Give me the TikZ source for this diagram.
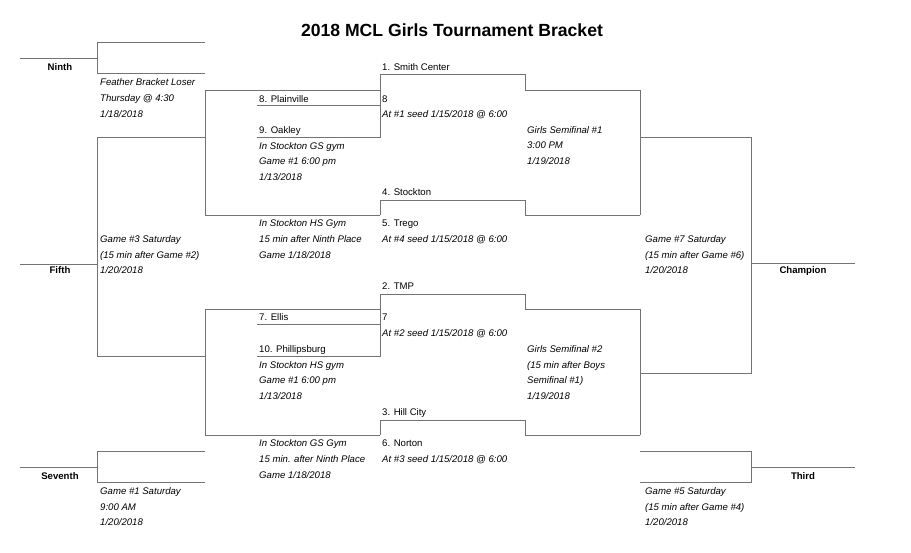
\documentclass[tikz,border=0pt]{standalone}
\usepackage{fontspec}
\setmainfont{Liberation Sans}
\begin{document}
\begin{tikzpicture}[x=1pt,y=-1pt,
  ln/.style={draw=black!55,line width=0.9pt},
  lb/.style={anchor=west,inner sep=0pt,yshift=-1.3pt,text height=7pt,text depth=2pt,font=\fontsize{9.6}{10}\selectfont},
  it/.style={lb,font=\fontsize{9.6}{10}\selectfont\itshape},
  pl/.style={anchor=center,inner sep=0pt,yshift=-1.3pt,text height=7pt,text depth=2pt,font=\fontsize{9.6}{10}\selectfont\bfseries}]
\useasboundingbox[fill=white] (0,0) rectangle (911,552);
\node[font=\fontsize{17.6}{19}\selectfont\bfseries] (title) at (452,30) {2018 MCL Girls Tournament Bracket};
% Ninth
\draw[ln] (205,42) -- (97,42) -- (97,73) -- (205,73);
\draw[ln] (20,58) -- (97,58);
% Fifth
\draw[ln] (205,137) -- (97,137) -- (97,356) -- (205,356);
\draw[ln] (20,264) -- (97,264);
% Seventh
\draw[ln] (205,451) -- (97,451) -- (97,482) -- (205,482);
\draw[ln] (20,467) -- (97,467);
% upper left bracket
\draw[ln] (380,90) -- (205,90) -- (205,215) -- (380,215);
\draw[ln] (257,105) -- (380,105);
\draw[ln] (257,137) -- (380,137) -- (380,74) -- (525,74) -- (525,90) -- (640,90);
\draw[ln] (380,215) -- (380,200) -- (525,200) -- (525,215) -- (640,215);
\draw[ln] (640,90) -- (640,215);
% lower left bracket
\draw[ln] (380,309) -- (205,309) -- (205,435) -- (380,435);
\draw[ln] (257,324) -- (380,324);
\draw[ln] (257,356) -- (380,356) -- (380,294) -- (525,294) -- (525,309) -- (640,309);
\draw[ln] (380,435) -- (380,420) -- (525,420) -- (525,435) -- (640,435);
\draw[ln] (640,309) -- (640,435);
% final
\draw[ln] (640,137) -- (751,137) -- (751,373) -- (640,373);
\draw[ln] (751,263) -- (855,263);
% third
\draw[ln] (640,451) -- (751,451) -- (751,482) -- (640,482);
\draw[ln] (751,467) -- (855,467);
% place labels
\node[pl] (ninth) at (60,67) {Ninth};
\node[pl] (fifth) at (60,270) {Fifth};
\node[pl] (seventh) at (60,476) {Seventh};
\node[pl] (champ) at (803,270) {Champion};
\node[pl] (third) at (803,476) {Third};
% left column
\node[it] (a1) at (100,82) {Feather Bracket Loser};
\node[it] (a2) at (100,98) {Thursday @ 4:30};
\node[it] (a3) at (100,114) {1/18/2018};
\node[it] (b1) at (100,239) {Game \#3 Saturday};
\node[it] (b2) at (100,255) {(15 min after Game \#2)};
\node[it] (b3) at (100,270) {1/20/2018};
\node[it] (c1) at (100,491) {Game \#1 Saturday};
\node[it] (c2) at (100,507) {9:00 AM};
\node[it] (c3) at (100,522) {1/20/2018};
% second column
\node[lb] (d1) at (259,99) {8. Plainville};
\node[lb] (d2) at (259,130) {9. Oakley};
\node[it] (d3) at (259,146) {In Stockton GS gym};
\node[it] (d4) at (259,161) {Game \#1 6:00 pm};
\node[it] (d5) at (259,177) {1/13/2018};
\node[it] (e1) at (259,223) {In Stockton HS Gym};
\node[it] (e2) at (259,239) {15 min after Ninth Place};
\node[it] (e3) at (259,255) {Game 1/18/2018};
\node[lb] (f1) at (259,317) {7. Ellis};
\node[lb] (f2) at (259,349) {10. Phillipsburg};
\node[it] (f3) at (259,365) {In Stockton HS gym};
\node[it] (f4) at (259,380) {Game \#1 6:00 pm};
\node[it] (f5) at (259,396) {1/13/2018};
\node[it] (g1) at (259,443) {In Stockton GS Gym};
\node[it] (g2) at (259,459) {15 min. after Ninth Place};
\node[it] (g3) at (259,475) {Game 1/18/2018};
% third column
\node[lb] (h1) at (382,67) {1. Smith Center};
\node[lb] (h2) at (382,99) {8};
\node[it] (h3) at (382,114) {At \#1 seed 1/15/2018 @ 6:00};
\node[lb] (i1) at (382,192) {4. Stockton};
\node[lb] (i2) at (382,223) {5. Trego};
\node[it] (i3) at (382,239) {At \#4 seed 1/15/2018 @ 6:00};
\node[lb] (j1) at (382,286) {2. TMP};
\node[lb] (j2) at (382,317) {7};
\node[it] (j3) at (382,333) {At \#2 seed 1/15/2018 @ 6:00};
\node[lb] (k1) at (382,412) {3. Hill City};
\node[lb] (k2) at (382,443) {6. Norton};
\node[it] (k3) at (382,459) {At \#3 seed 1/15/2018 @ 6:00};
% fourth column
\node[it] (m1) at (527,130) {Girls Semifinal \#1};
\node[it] (m2) at (527,145) {3:00 PM};
\node[it] (m3) at (527,161) {1/19/2018};
\node[it] (n1) at (527,349) {Girls Semifinal \#2};
\node[it] (n2) at (527,365) {(15 min after Boys};
\node[it] (n3) at (527,380) {Semifinal \#1)};
\node[it] (n4) at (527,396) {1/19/2018};
% fifth column
\node[it] (p1) at (645,239) {Game \#7 Saturday};
\node[it] (p2) at (645,255) {(15 min after Game \#6)};
\node[it] (p3) at (645,270) {1/20/2018};
\node[it] (q1) at (645,491) {Game \#5 Saturday};
\node[it] (q2) at (645,507) {(15 min after Game \#4)};
\node[it] (q3) at (645,522) {1/20/2018};
\end{tikzpicture}
\end{document}
